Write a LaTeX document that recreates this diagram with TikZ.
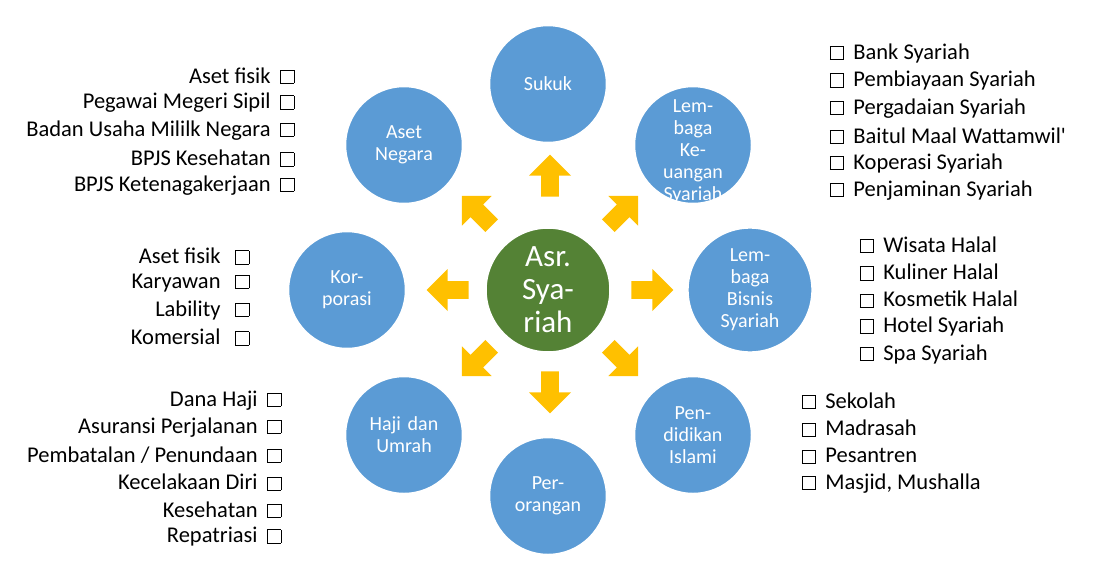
\documentclass[tikz,border=0pt]{standalone}
\usepackage{fontspec}
\setmainfont{Carlito}
\usetikzlibrary{shapes.arrows}
\definecolor{bluec}{HTML}{5B9BD5}
\definecolor{greenc}{HTML}{548235}
\definecolor{yellowa}{HTML}{FFC000}
\newcommand{\cbx}{\framebox(13,13){}}
\tikzset{
  topic/.style={circle,fill=bluec,draw=white,line width=1.5pt,minimum size=117pt,text width=80pt,align=center,text=white,font=\fontsize{20}{22}\selectfont},
  blk/.style={single arrow,fill=yellowa,draw=none,minimum height=42pt,minimum width=42pt,single arrow head extend=7pt,inner sep=5pt},
  item/.style={inner sep=1pt,font=\fontsize{22.5}{24}\selectfont}
}
\begin{document}
\begin{tikzpicture}[x=1pt,y=-1pt]
\useasboundingbox (0,0) rectangle (1109,584);
% pusat
\node[circle,fill=greenc,draw=white,line width=1.5pt,minimum size=124pt,text width=70pt,align=center,text=white,font=\fontsize{31}{33}\selectfont] (C) at (548,290) {Asr.\\Sya-\\riah};
% lingkaran
\node[topic] (S) at (548,84) {Sukuk};
\node[topic] (LK) at (693,145) {};
\node[text=white,align=center,font=\fontsize{20}{22}\selectfont] (LKt) at (693,152) {Lem-\\baga\\Ke-\\uangan\\Syariah};
\node[topic] (LB) at (750,290) {Lem-\\baga\\Bisnis\\Syariah};
\node[topic] (P) at (693,435) {Pen-\\didikan\\Islami};
\node[topic] (O) at (548,496) {Per-\\orangan};
\node[topic] (H) at (404,435) {Haji dan\\Umrah};
\node[topic] (K) at (347,290) {Kor-\\porasi};
\node[topic] (A) at (404,145) {Aset\\Negara};
% panah
\foreach \nm/\x/\y/\r in {au/550/180/90, ad/550/388/-90, al/452/290/180, ar/648/290/0,
  aul/480/214/135, aur/620/214/45, adl/480/358/-135, adr/620/358/-45}
  \node[blk,rotate=\r] (\nm) at (\x,\y) {};
% daftar kiri
\foreach \t [count=\i] in {Aset fisik,Pegawai Megeri Sipil,Badan Usaha Mililk Negara,BPJS Kesehatan,BPJS Ketenagakerjaan}
  \node[item,anchor=east] (an\i) at (295,48+27.5*\i) {\t\ \ \cbx};
\foreach \t [count=\i] in {Aset fisik,Karyawan,Lability,Komersial}
  \node[item,anchor=east] (ko\i) at (250,229+27*\i) {\t\ \ \ \cbx};
\foreach \t [count=\i] in {Dana Haji,Asuransi Perjalanan,Pembatalan / Penundaan,Kecelakaan Diri,Kesehatan,Repatriasi}
  \node[item,anchor=east] (hj\i) at (282,373+27.3*\i) {\t\ \ \cbx};
% daftar kanan
\foreach \t [count=\i] in {Bank Syariah,Pembiayaan Syariah,Pergadaian Syariah,Baitul Maal Wattamwil\textquotesingle,Koperasi Syariah,Penjaminan Syariah}
  \node[item,anchor=west] (lk\i) at (829,26+27.4*\i) {\cbx\ \ \t};
\foreach \t [count=\i] in {Wisata Halal,Kuliner Halal,Kosmetik Halal,Hotel Syariah,Spa Syariah}
  \node[item,anchor=west] (lb\i) at (859,217+27.4*\i) {\cbx\ \ \t};
\foreach \t [count=\i] in {Sekolah,Madrasah,Pesantren,{Masjid, Mushalla}}
  \node[item,anchor=west] (pd\i) at (801,373+27.6*\i) {\cbx\ \ \t};
\end{tikzpicture}
\end{document}
